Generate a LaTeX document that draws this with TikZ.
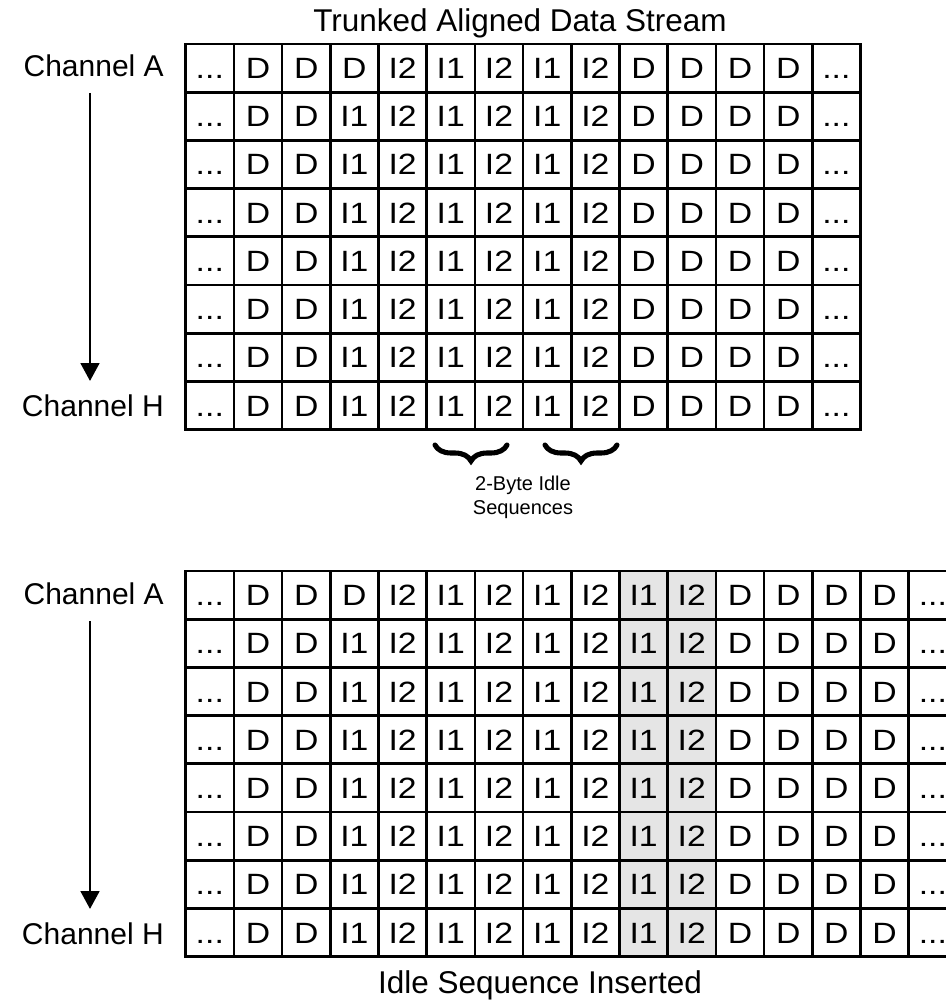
\documentclass[tikz,border=0pt]{standalone}
\usepackage{fontspec}
\setmainfont{Liberation Sans}
\usetikzlibrary{decorations.pathreplacing,arrows.meta}
\newcommand\celldots{...}
\newcommand\cw[1]{\scalebox{1.15}[1]{#1}}
\begin{document}
\begin{tikzpicture}[x=0.75pt,y=-0.75pt,
  cell/.style={draw=black, line width=2pt, minimum width=36.15pt, minimum height=36.15pt,
    inner sep=0pt, font=\fontsize{22}{22}\selectfont, text height=15.75pt, text depth=0pt},
  hl/.style={cell, fill=black!10},
  chlabel/.style={inner sep=0pt, anchor=east, font=\fontsize{22.5}{22.5}\selectfont, text height=16.1pt, text depth=0pt},
  title/.style={inner sep=0pt, font=\fontsize{23.6}{23.6}\selectfont, text height=16.9pt, text depth=0pt},
  small/.style={inner sep=0pt, align=center, font=\fontsize{15}{18}\selectfont},
  chanarrow/.style={line width=2.2pt, -{Triangle[width=14pt,length=13.5pt]}},
  bracestyle/.style={line width=3.8pt, line cap=round, decorate, decoration={brace, mirror, amplitude=12pt}}
]
\useasboundingbox (0,0) rectangle (945,1002);

% ---------- top grid ----------
\node[title] (ttitle) at (520,20) {Trunked Aligned Data Stream};
\foreach \r in {0,...,7}{
  \ifnum\r=0 \def\tc{D}\else\def\tc{I1}\fi
  \foreach \c/\t in {0/\celldots,1/D,2/D,3/\tc,4/I2,5/I1,6/I2,7/I1,8/I2,9/D,10/D,11/D,12/D,13/\celldots}{
    \node[cell] (t\r-\c) at ({185.7+48.2*(\c+0.5)},{44+48.2*(\r+0.5)}) {\cw{\t}};
  }
}
\node[chlabel] (tA) at (164,66) {Channel A};
\node[chlabel] (tH) at (164,406) {Channel H};
\coordinate (ta1) at (90,93);
\coordinate (ta2) at (90,381);
\draw[chanarrow] (ta1) -- (ta2);

% braces
\coordinate (b1s) at (435,445);
\coordinate (b1e) at (507,445);
\coordinate (b2s) at (545,445);
\coordinate (b2e) at (617,445);
\draw[bracestyle] (b1s) -- (b1e);
\draw[bracestyle] (b2s) -- (b2e);
\node[small] (idle) at (523,497) {2-Byte Idle\\Sequences};

% ---------- bottom grid ----------
\foreach \r in {0,...,7}{
  \ifnum\r=0 \def\tc{D}\else\def\tc{I1}\fi
  \foreach \c/\t in {0/\celldots,1/D,2/D,3/\tc,4/I2,5/I1,6/I2,7/I1,8/I2,11/D,12/D,13/D,14/D,15/\celldots}{
    \node[cell] (b\r-\c) at ({185.7+48.2*(\c+0.5)},{571+48.2*(\r+0.5)}) {\cw{\t}};
  }
  \node[hl] (b\r-9) at ({185.7+48.2*9.5},{571+48.2*(\r+0.5)}) {\cw{I1}};
  \node[hl] (b\r-10) at ({185.7+48.2*10.5},{571+48.2*(\r+0.5)}) {\cw{I2}};
}
\node[chlabel] (bA) at (164,594) {Channel A};
\node[chlabel] (bH) at (164,934) {Channel H};
\coordinate (ba1) at (90,621);
\coordinate (ba2) at (90,909);
\draw[chanarrow] (ba1) -- (ba2);
\node[title] (btitle) at (540,982) {Idle Sequence Inserted};
\end{tikzpicture}
\end{document}
